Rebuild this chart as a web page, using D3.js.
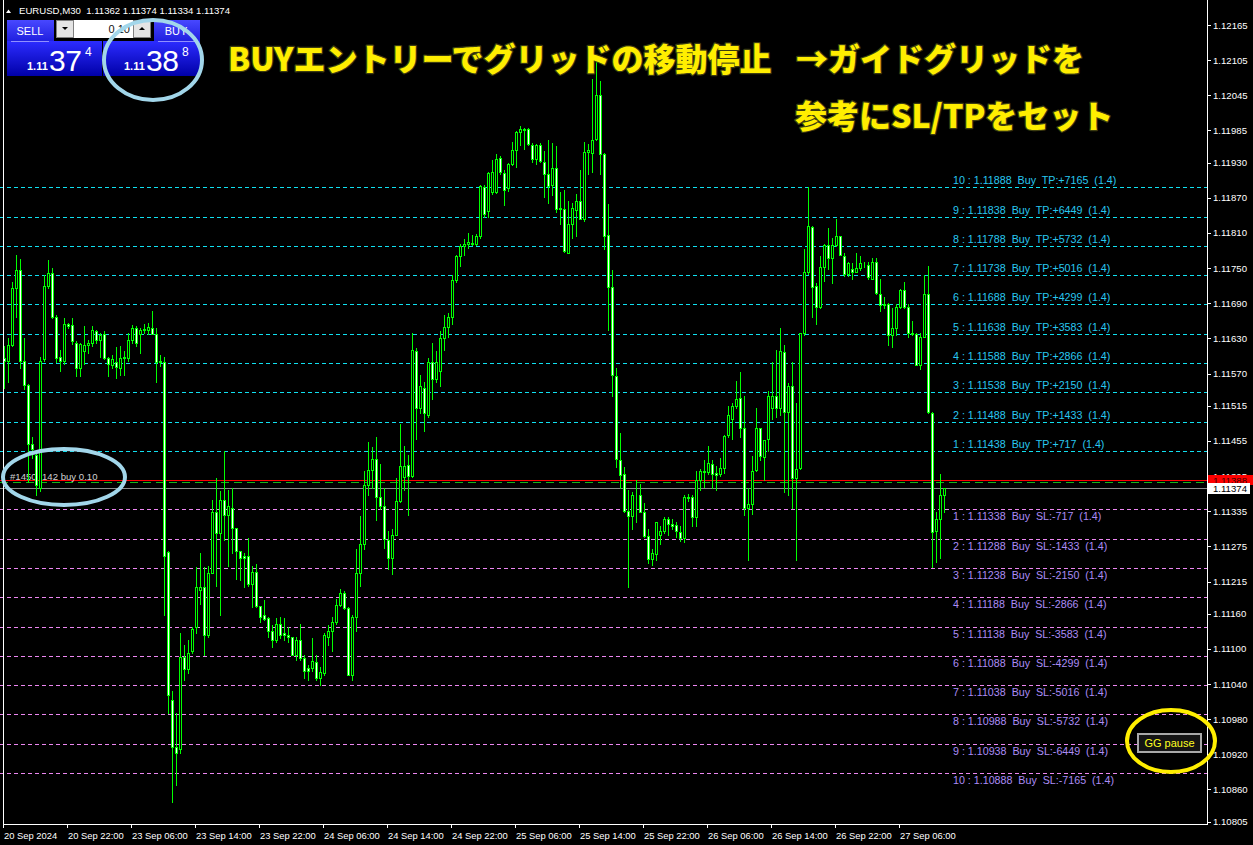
<!DOCTYPE html>
<html><head><meta charset="utf-8">
<script src="https://cdn.jsdelivr.net/npm/d3@7"></script>
<style>
html,body{margin:0;padding:0;background:#000;overflow:hidden}
svg{display:block}
text{white-space:pre}
</style></head><body>
<script>
// ---- data (EURUSD M30) ----
const opens=[1.11597,1.11591,1.11618,1.11716,1.11747,1.11591,1.11550,1.11449,1.11431,1.11375,
1.11594,1.11720,1.11741,1.11666,1.11599,1.11591,1.11654,1.11653,1.11623,1.11580,
1.11608,1.11618,1.11623,1.11642,1.11627,1.11637,1.11596,1.11585,1.11589,1.11580,
1.11596,1.11596,1.11627,1.11648,1.11637,1.11644,1.11645,1.11648,1.11637,1.11592,
1.11589,1.11265,1.11013,1.10932,1.10929,1.11087,1.11065,1.11096,1.11137,1.11201,
1.11205,1.11124,1.11230,1.11333,1.11298,1.11354,1.11329,1.11341,1.11307,1.11267,
1.11258,1.11258,1.11211,1.11232,1.11174,1.11157,1.11152,1.11131,1.11115,1.11143,
1.11127,1.11124,1.11120,1.11090,1.11115,1.11084,1.11067,1.11067,1.11078,1.11050,
1.11059,1.11121,1.11130,1.11146,1.11175,1.11196,1.11170,1.11056,1.11155,1.11230,
1.11279,1.11380,1.11405,1.11424,1.11360,1.11344,1.11286,1.11256,1.11295,1.11352,
1.11394,1.11414,1.11395,1.11608,1.11512,1.11546,1.11500,1.11589,1.11561,1.11575,
1.11631,1.11649,1.11667,1.11730,1.11771,1.11788,1.11791,1.11792,1.11792,1.11804,
1.11889,1.11848,1.11880,1.11880,1.11938,1.11912,1.11886,1.11927,1.11951,1.11982,
1.11986,1.11988,1.11961,1.11937,1.11961,1.11931,1.11911,1.11892,1.11921,1.11853,
1.11851,1.11776,1.11825,1.11850,1.11865,1.11834,1.11948,1.11947,1.11970,1.12045,
1.11945,1.11807,1.11718,1.11566,1.11423,1.11398,1.11335,1.11327,1.11362,1.11362,
1.11333,1.11293,1.11254,1.11262,1.11294,1.11302,1.11321,1.11313,1.11311,1.11299,
1.11290,1.11357,1.11359,1.11325,1.11389,1.11402,1.11402,1.11416,1.11400,1.11398,
1.11409,1.11465,1.11493,1.11514,1.11528,1.11477,1.11340,1.11348,1.11406,1.11477,
1.11427,1.11459,1.11512,1.11532,1.11512,1.11606,1.11505,1.11548,1.11392,1.11409,
1.11639,1.11743,1.11821,1.11720,1.11683,1.11752,1.11789,1.11767,1.11789,1.11804,
1.11770,1.11740,1.11748,1.11744,1.11750,1.11755,1.11756,1.11732,1.11760,1.11706,
1.11687,1.11689,1.11636,1.11648,1.11683,1.11713,1.11683,1.11639,1.11638,1.11585,
1.11633,1.11705,1.11502,1.11301,1.11322,1.11362];
const highs=[1.11617,1.11630,1.11726,1.11772,1.11766,1.11630,1.11552,1.11462,1.11437,1.11599,
1.11738,1.11763,1.11751,1.11670,1.11611,1.11664,1.11657,1.11664,1.11625,1.11623,
1.11651,1.11627,1.11651,1.11645,1.11639,1.11643,1.11599,1.11602,1.11616,1.11617,
1.11608,1.11639,1.11653,1.11651,1.11648,1.11654,1.11656,1.11676,1.11648,1.11602,
1.11599,1.11267,1.11028,1.10991,1.11127,1.11106,1.11115,1.11137,1.11239,1.11264,
1.11239,1.11242,1.11354,1.11391,1.11369,1.11437,1.11372,1.11375,1.11307,1.11267,
1.11263,1.11289,1.11242,1.11245,1.11174,1.11183,1.11155,1.11140,1.11152,1.11155,
1.11152,1.11137,1.11121,1.11121,1.11143,1.11090,1.11072,1.11118,1.11090,1.11069,
1.11127,1.11140,1.11155,1.11186,1.11202,1.11199,1.11171,1.11158,1.11270,1.11326,
1.11403,1.11453,1.11444,1.11462,1.11416,1.11375,1.11301,1.11304,1.11391,1.11484,
1.11447,1.11431,1.11639,1.11614,1.11568,1.11555,1.11596,1.11623,1.11608,1.11642,
1.11670,1.11673,1.11738,1.11772,1.11791,1.11800,1.11810,1.11807,1.11809,1.11892,
1.11892,1.11914,1.11935,1.11944,1.11941,1.11917,1.11929,1.11965,1.11984,1.11992,
1.11990,1.11990,1.11964,1.11962,1.11964,1.11950,1.11969,1.11964,1.11958,1.11880,
1.11883,1.11865,1.11862,1.11877,1.11917,1.11965,1.11962,1.12072,1.12112,1.12069,
1.11947,1.11859,1.11746,1.11579,1.11468,1.11410,1.11371,1.11368,1.11389,1.11382,
1.11349,1.11304,1.11270,1.11317,1.11310,1.11325,1.11325,1.11322,1.11316,1.11310,
1.11362,1.11365,1.11362,1.11404,1.11407,1.11423,1.11447,1.11423,1.11413,1.11426,
1.11465,1.11514,1.11520,1.11557,1.11572,1.11532,1.11374,1.11429,1.11511,1.11477,
1.11456,1.11540,1.11590,1.11610,1.11648,1.11618,1.11554,1.11590,1.11520,1.11639,
1.11782,1.11888,1.11822,1.11725,1.11770,1.11792,1.11819,1.11801,1.11834,1.11805,
1.11776,1.11761,1.11758,1.11776,1.11770,1.11760,1.11761,1.11767,1.11768,1.11731,
1.11700,1.11691,1.11682,1.11688,1.11715,1.11726,1.11688,1.11660,1.11639,1.11639,
1.11738,1.11754,1.11505,1.11334,1.11398,1.11374];
const lows=[1.11546,1.11555,1.11617,1.11667,1.11580,1.11543,1.11385,1.11425,1.11363,1.11369,
1.11592,1.11716,1.11664,1.11589,1.11575,1.11586,1.11648,1.11620,1.11565,1.11565,
1.11586,1.11605,1.11617,1.11623,1.11599,1.11595,1.11566,1.11580,1.11563,1.11568,
1.11568,1.11592,1.11623,1.11617,1.11605,1.11639,1.11637,1.11637,1.11555,1.11583,
1.11158,1.10991,1.10839,1.10867,1.10923,1.11047,1.11059,1.11093,1.11127,1.11177,
1.11090,1.11121,1.11230,1.11208,1.11158,1.11286,1.11242,1.11264,1.11220,1.11217,
1.11205,1.11208,1.11171,1.11171,1.11146,1.11149,1.11121,1.11103,1.11112,1.11118,
1.11115,1.11112,1.11090,1.11081,1.11081,1.11050,1.11047,1.11062,1.11047,1.11038,
1.11056,1.11106,1.11096,1.11143,1.11174,1.11168,1.11056,1.11047,1.11131,1.11208,
1.11270,1.11363,1.11375,1.11320,1.11338,1.11273,1.11236,1.11227,1.11295,1.11351,
1.11372,1.11329,1.11394,1.11459,1.11503,1.11472,1.11496,1.11527,1.11555,1.11549,
1.11611,1.11633,1.11654,1.11726,1.11754,1.11772,1.11785,1.11789,1.11789,1.11801,
1.11837,1.11837,1.11877,1.11878,1.11911,1.11857,1.11882,1.11926,1.11923,1.11961,
1.11953,1.11961,1.11931,1.11927,1.11931,1.11872,1.11862,1.11874,1.11846,1.11825,
1.11778,1.11776,1.11801,1.11804,1.11834,1.11831,1.11911,1.11914,1.11968,1.11911,
1.11782,1.11645,1.11532,1.11410,1.11374,1.11334,1.11206,1.11304,1.11316,1.11334,
1.11291,1.11246,1.11243,1.11252,1.11279,1.11297,1.11294,1.11304,1.11291,1.11285,
1.11282,1.11352,1.11310,1.11310,1.11371,1.11377,1.11398,1.11374,1.11371,1.11395,
1.11401,1.11462,1.11459,1.11511,1.11462,1.11328,1.11252,1.11331,1.11404,1.11423,
1.11389,1.11438,1.11493,1.11496,1.11500,1.11368,1.11362,1.11340,1.11252,1.11407,
1.11636,1.11740,1.11667,1.11654,1.11682,1.11728,1.11749,1.11725,1.11787,1.11773,
1.11737,1.11737,1.11731,1.11743,1.11746,1.11752,1.11731,1.11731,1.11706,1.11676,
1.11682,1.11618,1.11616,1.11636,1.11682,1.11682,1.11633,1.11636,1.11584,1.11578,
1.11633,1.11502,1.11240,1.11249,1.11255,1.11334];
const closes=[1.11592,1.11618,1.11716,1.11747,1.11591,1.11550,1.11449,1.11441,1.11379,1.11592,
1.11720,1.11741,1.11666,1.11596,1.11591,1.11654,1.11652,1.11625,1.11580,1.11620,
1.11618,1.11623,1.11645,1.11627,1.11635,1.11597,1.11586,1.11594,1.11581,1.11596,
1.11599,1.11627,1.11648,1.11622,1.11645,1.11646,1.11649,1.11637,1.11589,1.11589,
1.11258,1.11022,1.10932,1.10923,1.11087,1.11065,1.11093,1.11134,1.11205,1.11205,
1.11124,1.11230,1.11333,1.11298,1.11354,1.11329,1.11344,1.11307,1.11267,1.11256,
1.11256,1.11211,1.11232,1.11174,1.11155,1.11151,1.11131,1.11115,1.11143,1.11124,
1.11124,1.11121,1.11090,1.11115,1.11084,1.11062,1.11062,1.11079,1.11050,1.11060,
1.11124,1.11130,1.11146,1.11175,1.11196,1.11170,1.11056,1.11155,1.11230,1.11279,
1.11380,1.11405,1.11424,1.11360,1.11344,1.11287,1.11256,1.11295,1.11352,1.11413,
1.11413,1.11395,1.11611,1.11512,1.11549,1.11503,1.11589,1.11561,1.11589,1.11631,
1.11649,1.11667,1.11730,1.11771,1.11788,1.11791,1.11795,1.11793,1.11805,1.11890,
1.11842,1.11912,1.11914,1.11937,1.11914,1.11884,1.11927,1.11951,1.11982,1.11987,
1.11988,1.11962,1.11937,1.11961,1.11932,1.11911,1.11890,1.11921,1.11851,1.11851,
1.11779,1.11825,1.11853,1.11865,1.11834,1.11949,1.11951,1.11969,1.12045,1.11944,
1.11804,1.11718,1.11567,1.11424,1.11396,1.11335,1.11327,1.11362,1.11363,1.11334,
1.11293,1.11254,1.11264,1.11316,1.11302,1.11322,1.11313,1.11310,1.11301,1.11290,
1.11359,1.11360,1.11325,1.11389,1.11404,1.11404,1.11418,1.11398,1.11396,1.11409,
1.11463,1.11499,1.11514,1.11526,1.11477,1.11340,1.11348,1.11404,1.11477,1.11429,
1.11456,1.11531,1.11531,1.11512,1.11609,1.11505,1.11548,1.11392,1.11407,1.11639,
1.11743,1.11822,1.11718,1.11683,1.11752,1.11789,1.11767,1.11789,1.11804,1.11773,
1.11740,1.11758,1.11744,1.11750,1.11758,1.11756,1.11734,1.11760,1.11707,1.11687,
1.11689,1.11636,1.11648,1.11683,1.11712,1.11683,1.11639,1.11638,1.11585,1.11633,
1.11705,1.11505,1.11299,1.11322,1.11362,1.11374];

const timeLabels=["20 Sep 2024","20 Sep 22:00","23 Sep 06:00","23 Sep 14:00","23 Sep 22:00","24 Sep 06:00","24 Sep 14:00","24 Sep 22:00","25 Sep 06:00","25 Sep 14:00","25 Sep 22:00","26 Sep 06:00","26 Sep 14:00","26 Sep 22:00","27 Sep 06:00"];
const barsPerLabel=16;
const axisPrices=[1.12165,1.12105,1.12045,1.11985,1.11930,1.11870,1.11810,1.11750,1.11690,1.11630,1.11570,1.11515,1.11455,1.11395,1.11335,1.11275,1.11215,1.11160,1.11100,1.11040,1.10980,1.10920,1.10860,1.10805];
const tpPrices=[1.11438,1.11488,1.11538,1.11588,1.11638,1.11688,1.11738,1.11788,1.11838,1.11888];
const slPrices=[1.11338,1.11288,1.11238,1.11188,1.11138,1.11088,1.11038,1.10988,1.10938,1.10888];
const gridPoints=[717,1433,2150,2866,3583,4299,5016,5732,6449,7165];
const gridRatio="1.4";
const askPrice=1.11388, bidPrice=1.11374, orderPrice=1.11386;
const symbol="EURUSD,M30";
const headerOHLC=["1.11362","1.11374","1.11334","1.11374"];
const lotText="0.10";
const sellQuote=["1.11","37","4"], buyQuote=["1.11","38","8"];
const orderTextA="#1450", orderTextB="142 buy 0.10";
const titleLine1a="BUYエントリーでグリッドの移動停止", titleLine1b="→ガイドグリッドを", titleLine2="参考にSL/TPをセット";

// ---- setup ----
const W=1253,H=845;
const svg=d3.select("body").append("svg").attr("width",W).attr("height",H)
  .style("background","#000");
const x=d3.scaleLinear().domain([0,opens.length-1]).range([4,944]);
const y=d3.scaleLinear().domain([1.10805,1.12165]).range([821.7,25]);
const py=v=>Math.round(y(v))+0.5;
const AX=1207, BY=824;
const F="'Liberation Sans',Arial,sans-serif";

// grid lines
const gl=svg.append("g");
gl.selectAll("line.tp").data(tpPrices).join("line")
  .attr("x1",0).attr("x2",AX).attr("y1",d=>py(d)).attr("y2",d=>py(d))
  .attr("stroke","#10e0f0").attr("stroke-dasharray","4,3");
gl.selectAll("line.sl").data(slPrices).join("line")
  .attr("x1",0).attr("x2",AX).attr("y1",d=>py(d)).attr("y2",d=>py(d))
  .attr("stroke","#ec86f0").attr("stroke-dasharray","4,3");
// price lines
gl.append("line").attr("x1",0).attr("x2",AX).attr("y1",py(bidPrice)).attr("y2",py(bidPrice)).attr("stroke","#8c8c8c");
gl.append("line").attr("x1",0).attr("x2",AX).attr("y1",py(askPrice)).attr("y2",py(askPrice)).attr("stroke","#ff0000");
gl.append("line").attr("x1",0).attr("x2",AX).attr("y1",py(orderPrice)+1).attr("y2",py(orderPrice)+1).attr("stroke","#18b418").attr("stroke-dasharray","8,5");

// order text (behind candles)
const ot=svg.append("text").attr("y",py(orderPrice)-2).attr("font-family",F).attr("font-size",9.6).attr("fill","#d0d0d0");
ot.append("tspan").attr("x",10).text(orderTextA);
ot.append("tspan").attr("x",42).text(orderTextB);

// candles
const idx=d3.range(opens.length);
const cg=svg.append("g");
cg.selectAll("line.w").data(idx).join("line")
  .attr("x1",i=>Math.round(x(i))+0.5).attr("x2",i=>Math.round(x(i))+0.5)
  .attr("y1",i=>Math.round(y(highs[i]))).attr("y2",i=>Math.round(y(lows[i]))+1)
  .attr("stroke","#00ff00");
cg.selectAll("rect.b").data(idx).join("rect")
  .attr("x",i=>Math.round(x(i))-0.5)
  .attr("y",i=>Math.round(y(Math.max(opens[i],closes[i])))+0.5)
  .attr("width",2)
  .attr("height",i=>Math.max(0,Math.round(y(Math.min(opens[i],closes[i])))-Math.round(y(Math.max(opens[i],closes[i])))))
  .attr("fill",i=>closes[i]<opens[i]?"#ffffff":"#000000")
  .attr("stroke","#00ff00");

// grid labels
const lg=svg.append("g").attr("font-family",F).attr("font-size",10.7);
lg.selectAll("text.tp").data(tpPrices).join("text")
  .attr("x",953).attr("y",d=>py(d)-4).attr("fill","#28c8f0")
  .text((d,i)=>`${i+1} : ${d.toFixed(5)}  Buy  TP:+${gridPoints[i]}  (${gridRatio})`);
lg.selectAll("text.sl").data(slPrices).join("text")
  .attr("x",953).attr("y",d=>py(d)+10).attr("fill","#ab8cf6")
  .text((d,i)=>`${i+1} : ${d.toFixed(5)}  Buy  SL:-${gridPoints[i]}  (${gridRatio})`);

// axes frame
const ag=svg.append("g");
ag.append("line").attr("x1",AX+0.5).attr("x2",AX+0.5).attr("y1",0).attr("y2",BY+1).attr("stroke","#fff");
ag.append("line").attr("x1",3).attr("x2",AX+1).attr("y1",BY+0.5).attr("y2",BY+0.5).attr("stroke","#fff");
ag.append("line").attr("x1",3.5).attr("x2",3.5).attr("y1",0).attr("y2",BY+1).attr("stroke","#fff");
// right axis
ag.selectAll("line.rt").data(axisPrices).join("line")
  .attr("x1",AX).attr("x2",AX+4).attr("y1",d=>py(d)).attr("y2",d=>py(d)).attr("stroke","#fff");
ag.selectAll("text.rt").data(axisPrices).join("text")
  .attr("x",AX+6).attr("y",d=>y(d)+3.5).attr("font-family",F).attr("font-size",9.6).attr("fill","#fff")
  .text(d=>d.toFixed(5));
// bid / ask labels
ag.append("rect").attr("x",AX+1).attr("y",Math.round(y(askPrice))-5).attr("width",W-AX-1).attr("height",10).attr("fill","#ff0000");
ag.append("text").attr("x",AX+6).attr("y",y(askPrice)+3.5).attr("font-family",F).attr("font-size",9.6).attr("fill","#400000").text(askPrice.toFixed(5));
ag.append("rect").attr("x",AX+1).attr("y",Math.round(y(bidPrice))-5).attr("width",42).attr("height",11).attr("fill","#ffffff");
ag.append("text").attr("x",AX+6).attr("y",y(bidPrice)+4).attr("font-family",F).attr("font-size",9.6).attr("fill","#000").text(bidPrice.toFixed(5));
// time axis
const tickBars=timeLabels.map((d,i)=>i*barsPerLabel);
ag.selectAll("line.tt").data(tickBars).join("line")
  .attr("x1",b=>Math.round(x(b))-0.5).attr("x2",b=>Math.round(x(b))-0.5).attr("y1",BY).attr("y2",BY+4).attr("stroke","#fff");
ag.selectAll("text.tt").data(tickBars).join("text")
  .attr("x",b=>Math.round(x(b))).attr("y",839).attr("font-family",F).attr("font-size",9.4).attr("fill","#fff")
  .text((b,i)=>timeLabels[i]);

// header
const hg=svg.append("g").attr("font-family",F).attr("font-size",9.6).attr("fill","#fff");
hg.append("path").attr("d","M6,13 L8.5,9.5 L11,13 Z").attr("fill","#fff");
hg.append("text").attr("x",19).attr("y",14).text(symbol+"  "+headerOHLC.join(" "));

// one-click panel
const defs=svg.append("defs");
const g1=defs.append("linearGradient").attr("id","pnl").attr("x1",0).attr("y1",0).attr("x2",0).attr("y2",1);
g1.append("stop").attr("offset","0%").attr("stop-color","#2c2cff");
g1.append("stop").attr("offset","100%").attr("stop-color","#0000a8");
const g2=defs.append("linearGradient").attr("id","btn").attr("x1",0).attr("y1",0).attr("x2",0).attr("y2",1);
g2.append("stop").attr("offset","0%").attr("stop-color","#4848ff");
g2.append("stop").attr("offset","100%").attr("stop-color","#2020e0");
const pg=svg.append("g");
pg.append("rect").attr("x",7).attr("y",41).attr("width",95).attr("height",35).attr("fill","url(#pnl)");
pg.append("rect").attr("x",103).attr("y",41).attr("width",97).attr("height",35).attr("fill","url(#pnl)");
pg.append("rect").attr("x",7).attr("y",20).attr("width",47).attr("height",21).attr("fill","url(#btn)");
pg.append("rect").attr("x",154).attr("y",20).attr("width",46).attr("height",21).attr("fill","url(#btn)");
pg.append("line").attr("x1",11).attr("x2",49).attr("y1",41.5).attr("y2",41.5).attr("stroke","#9090ff");
pg.append("line").attr("x1",158).attr("x2",197).attr("y1",41.5).attr("y2",41.5).attr("stroke","#9090ff");
pg.append("rect").attr("x",56.5).attr("y",20.5).attr("width",17).attr("height",17).attr("fill","#e4e4e4").attr("stroke","#808080");
pg.append("rect").attr("x",74).attr("y",20).attr("width",59).attr("height",18).attr("fill","#fff");
pg.append("rect").attr("x",133.5).attr("y",20.5).attr("width",17).attr("height",17).attr("fill","#e4e4e4").attr("stroke","#808080");
pg.append("path").attr("d","M62,27 L68,27 L65,30 Z").attr("fill","#000");
pg.append("path").attr("d","M139,30 L145,30 L142,27 Z").attr("fill","#000");
pg.append("text").attr("x",130).attr("y",33).attr("text-anchor","end").attr("font-family",F).attr("font-size",11).attr("fill","#111").text(lotText);
pg.append("text").attr("x",30).attr("y",35).attr("text-anchor","middle").attr("font-family",F).attr("font-size",11).attr("fill","#fff").text("SELL");
pg.append("text").attr("x",176).attr("y",35).attr("text-anchor","middle").attr("font-family",F).attr("font-size",11).attr("fill","#fff").text("BUY");
function quote(q,x0){
  pg.append("text").attr("x",x0).attr("y",70).attr("font-family",F).attr("font-size",11).attr("font-weight","bold").attr("fill","#fff").text(q[0]);
  pg.append("text").attr("x",x0+22).attr("y",71).attr("font-family",F).attr("font-size",30).attr("fill","#fff").attr("letter-spacing",-0.5).text(q[1]);
  pg.append("text").attr("x",x0+58).attr("y",56).attr("font-family",F).attr("font-size",12).attr("fill","#fff").text(q[2]);
}
quote(sellQuote,27);
quote(buyQuote,124);

// GG pause
svg.append("rect").attr("x",1138).attr("y",734).attr("width",63).attr("height",18).attr("fill","#141414").attr("stroke","#a8a8a8").attr("stroke-width",2);
svg.append("text").attr("x",1169.5).attr("y",747).attr("text-anchor","middle").attr("font-family",F).attr("font-size",11).attr("fill","#ffff20").text("GG pause");

// title
const JF="'Noto Sans CJK JP','Noto Sans',sans-serif";
const tg=svg.append("g").attr("font-family",JF).attr("font-weight",900).attr("font-size",32)
  .attr("fill","#ffee00").attr("stroke","#3c3c10").attr("stroke-width",2.5).attr("paint-order","stroke").attr("stroke-linejoin","round");
tg.append("text").attr("x",228).attr("y",71).text(titleLine1a);
tg.append("text").attr("x",796).attr("y",71).text(titleLine1b);
tg.append("text").attr("x",795).attr("y",128).text(titleLine2);

// annotation ellipses
svg.append("ellipse").attr("cx",153).attr("cy",60).attr("rx",49).attr("ry",40).attr("fill","none").attr("stroke","#a2d6ea").attr("stroke-width",4);
svg.append("ellipse").attr("cx",64).attr("cy",477).attr("rx",61).attr("ry",28).attr("fill","none").attr("stroke","#a2d6ea").attr("stroke-width",4);
svg.append("ellipse").attr("cx",1171).attr("cy",741).attr("rx",44).attr("ry",31).attr("fill","none").attr("stroke","#ffee00").attr("stroke-width",4);
</script>
</body></html>
